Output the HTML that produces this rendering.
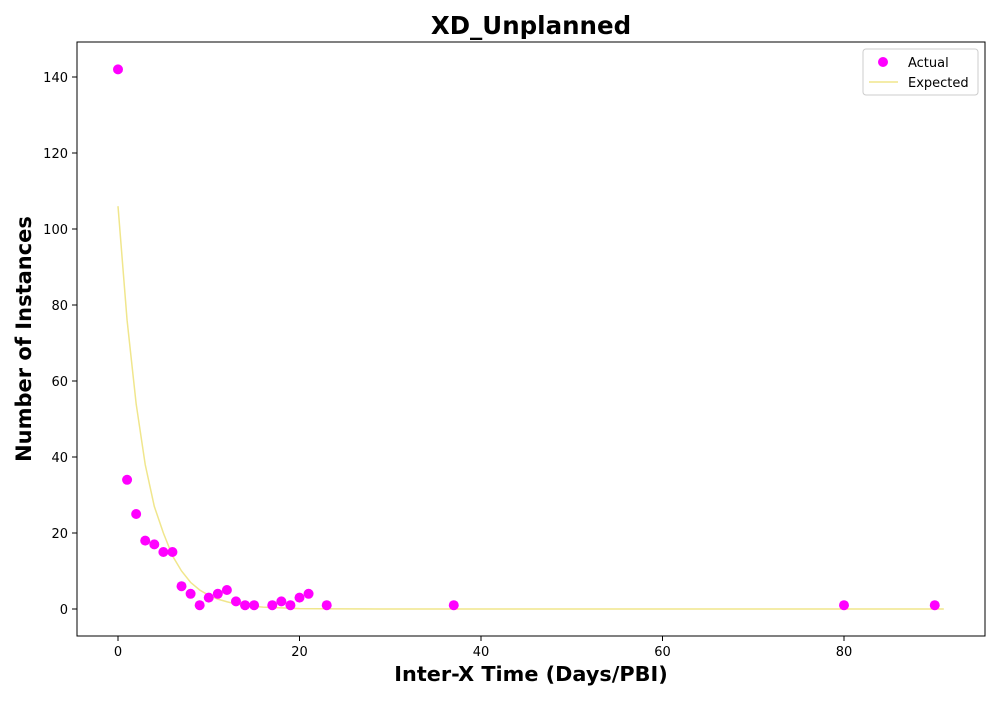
<!DOCTYPE html>
<html><head><meta charset="utf-8"><style>
body{margin:0;background:#fff;font-family:"Liberation Sans","DejaVu Sans",sans-serif}
svg text{font-family:"DejaVu Sans","Liberation Sans",sans-serif}
</style></head><body>
<svg id="chart" width="1000" height="700">
<text x="531" y="34" text-anchor="middle" font-size="24.5" font-weight="bold">XD_Unplanned</text>
<rect x="77" y="42" width="908" height="594" fill="none" stroke="#000"/>
<g id="xt"></g><g id="yt"></g><g id="marks"></g>
<text x="531" y="681" text-anchor="middle" font-size="20.8" font-weight="bold">Inter-X Time (Days/PBI)</text>
<text transform="translate(31,339) rotate(-90)" text-anchor="middle" font-size="21" font-weight="bold">Number of Instances</text>
<g>
<rect x="863" y="49" width="115" height="46" rx="3" fill="#fff" stroke="#ccc"/>
<circle cx="883" cy="62" r="5" fill="#ff00ff"/>
<text x="908" y="67" font-size="13">Actual</text>
<line x1="869" y1="82" x2="898" y2="82" stroke="#f0e68c" stroke-width="1.5"/>
<text x="908" y="87" font-size="13">Expected</text>
</g>
</svg>
<script>
const actualX=[0,1,2,3,4,5,6,7,8,9,10,11,12,13,14,15,17,18,19,20,21,23,37,80,90];
const actualY=[142,34,25,18,17,15,15,6,4,1,3,4,5,2,1,1,1,2,1,3,4,1,1,1,1];
const expX=[0,1,2,3,4,5,6,7,8,9,10,11,12,13,14,15,16,18,20,25,30,40,60,80,91];
const expY=[106,76,54,38,27,20,14,10,7,5,3.6,2.6,1.9,1.3,1,0.7,0.5,0.3,0.1,0.03,0,0,0,0,0];
const xTicks=[0,20,40,60,80];
const yTicks=[0,20,40,60,80,100,120,140];
const sx=v=>118+v*9.075, sy=v=>609-v*3.8;
const NS="http://www.w3.org/2000/svg";
function mk(t,a,p){const e=document.createElementNS(NS,t);for(const k in a)e.setAttribute(k,a[k]);p.appendChild(e);return e;}
const xt=document.getElementById('xt'),yt=document.getElementById('yt'),m=document.getElementById('marks');
xTicks.forEach(v=>{const g=mk('g',{},xt);


mk('line',{x1:sx(v),x2:sx(v),y1:636,y2:641,stroke:'#000'},g);
const t=mk('text',{x:sx(v),y:656,'text-anchor':'middle','font-size':13},g);t.textContent=v;});
yTicks.forEach(v=>{const g=mk('g',{},yt);


mk('line',{x1:72,x2:77,y1:sy(v),y2:sy(v),stroke:'#000'},g);
const t=mk('text',{x:68,y:sy(v)+5,'text-anchor':'end','font-size':13},g);t.textContent=v;});
const line=mk('polyline',{points:expX.map((x,i)=>sx(x)+','+sy(expY[i])).join(' '),fill:'none',stroke:'#f0e68c','stroke-width':1.5},m);


actualX.forEach((x,i)=>{const c=mk('circle',{cx:sx(x),cy:sy(actualY[i]),r:5,fill:'#ff00ff'},m);

});
</script>
</body></html>
